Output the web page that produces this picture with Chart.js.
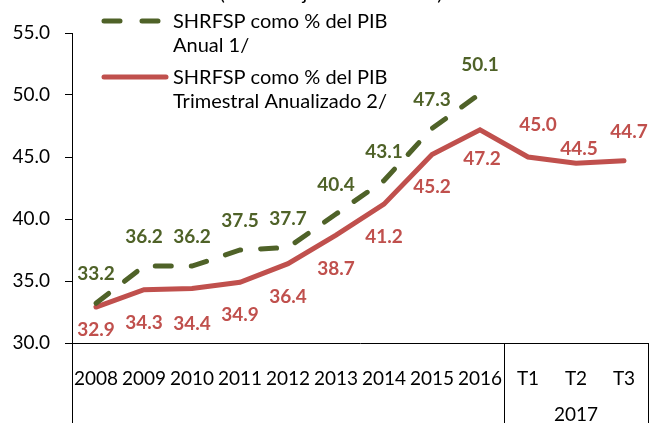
<!DOCTYPE html>
<html><head><meta charset="utf-8">
<script src="https://cdn.jsdelivr.net/npm/chart.js@4.4.1/dist/chart.umd.min.js"></script>
<style>html,body{margin:0;padding:0;background:#fff}#wrap{width:653px;height:423px}</style>
</head><body><div id="wrap"><canvas id="c" width="653" height="423"></canvas></div>
<script>
const categories = ['2008','2009','2010','2011','2012','2013','2014','2015','2016','T1','T2','T3'];
const anual = [33.2, 36.2, 36.2, 37.5, 37.7, 40.4, 43.1, 47.3, 50.1];
const trimestral = [32.9, 34.3, 34.4, 34.9, 36.4, 38.7, 41.2, 45.2, 47.2, 45.0, 44.5, 44.7];
const yTicks = [30, 35, 40, 45, 50, 55];
const seriesNames = [['SHRFSP como % del PIB','Anual 1/'],['SHRFSP como % del PIB','Trimestral Anualizado 2/']];
const groupLabel = '2017';
const titleText = '(Porcentaje del PIB anual)';

const GREEN = '#4F6228', RED = '#C0504D';
const FONT = 'Lato, "Open Sans", sans-serif';
// label offsets relative to each point (placement only)
const anualLabelDy = anual.map(() => -29);
const trimLabelDy = [23, 33, 35, 33, 33, 34, 33, 32, 29, -32, -14, -29];
const trimLabelDx = [0, 0, 0, 0, 0, 0, 0, 0, 2, 10, 3, 5];

const extras = {
  id: 'extras',
  afterDraw(chart) {
    const ctx = chart.ctx, ca = chart.chartArea, xs = chart.scales.x;
    ctx.save();
    // separators below axis
    ctx.strokeStyle = '#000'; ctx.lineWidth = 1;
    const half = (xs.getPixelForValue(1) - xs.getPixelForValue(0)) / 2;
    [0, 9, 12].forEach(i => {
      const x = Math.round(xs.getPixelForValue(0) - half + i * 2 * half) + 0.5;
      ctx.beginPath(); ctx.moveTo(x, ca.bottom); ctx.lineTo(x, chart.height); ctx.stroke();
    });
    // group label
    ctx.fillStyle = '#000';
    ctx.font = '19px ' + FONT;
    ctx.textAlign = 'center'; ctx.textBaseline = 'middle';
    ctx.fillText(groupLabel, xs.getPixelForValue(10), 415);
    // data labels
    ctx.font = 'bold 19px ' + FONT;
    const m0 = chart.getDatasetMeta(0), m1 = chart.getDatasetMeta(1);
    ctx.fillStyle = GREEN;
    m0.data.forEach((p, i) => ctx.fillText(anual[i].toFixed(1), p.x, p.y + anualLabelDy[i]));
    ctx.fillStyle = RED;
    m1.data.forEach((p, i) => ctx.fillText(trimestral[i].toFixed(1), p.x + trimLabelDx[i], p.y + trimLabelDy[i]));
    // legend
    ctx.lineWidth = 5; ctx.lineCap = 'round';
    ctx.strokeStyle = GREEN; ctx.setLineDash([16, 22]);
    ctx.beginPath(); ctx.moveTo(104, 21); ctx.lineTo(162, 21); ctx.stroke();
    ctx.setLineDash([]);
    ctx.strokeStyle = RED;
    ctx.beginPath(); ctx.moveTo(104, 77); ctx.lineTo(166, 77); ctx.stroke();
    ctx.fillStyle = '#000'; ctx.textAlign = 'left';
    ctx.font = '20px ' + FONT;
    ctx.fillText(seriesNames[0][0], 173, 22);
    ctx.fillText(seriesNames[0][1], 173, 46);
    ctx.fillText(seriesNames[1][0], 173, 78);
    ctx.fillText(seriesNames[1][1], 173, 102);
    // clipped title
    ctx.textAlign = 'center'; ctx.textBaseline = 'alphabetic';
    ctx.fillText(titleText, 331, 0);
    ctx.restore();
  }
};

new Chart(document.getElementById('c'), {
  type: 'line',
  data: {
    labels: categories,
    datasets: [
      { label: seriesNames[0].join(' '), data: anual, borderColor: GREEN, borderWidth: 5,
        borderDash: [16, 20], borderCapStyle: 'round', pointRadius: 0, tension: 0, fill: false },
      { label: seriesNames[1].join(' '), data: trimestral, borderColor: RED, borderWidth: 5,
        borderCapStyle: 'round', borderJoinStyle: 'miter', pointRadius: 0, tension: 0, fill: false }
    ]
  },
  options: {
    responsive: false, animation: false, devicePixelRatio: 1,
    layout: { padding: { top: 33, right: 5, left: 0, bottom: 0 } },
    plugins: { legend: { display: false }, tooltip: { enabled: false } },
    scales: {
      x: {
        offset: true,
        afterFit(s) { s.height = 80; s.paddingLeft = 0; s.paddingRight = 0; },
        grid: { display: false, drawOnChartArea: false, drawTicks: false, offset: true },
        border: { display: true, color: '#000', width: 1 },
        ticks: { color: '#000', font: { family: FONT, size: 19 }, padding: 24, autoSkip: false, maxRotation: 0 }
      },
      y: {
        min: 30, max: 55,
        afterFit(s) { s.width = 72; s.paddingTop = 0; s.paddingBottom = 0; },
        afterBuildTicks(s) { s.ticks = yTicks.map(v => ({ value: v })); },
        grid: { drawOnChartArea: false, drawTicks: true, tickLength: 7, color: '#000' },
        border: { display: true, color: '#000', width: 1 },
        ticks: { color: '#000', font: { family: FONT, size: 19 }, padding: 15, callback: v => Number(v).toFixed(1) }
      }
    }
  },
  plugins: [extras]
});
</script></body></html>
